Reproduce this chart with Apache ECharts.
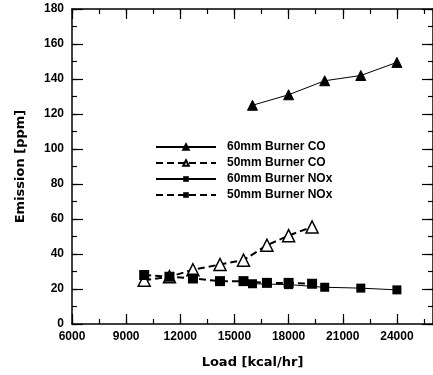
<!DOCTYPE html>
<html>
<head>
<meta charset="utf-8">
<script src="https://cdn.jsdelivr.net/npm/echarts@6/dist/echarts.min.js"></script>
<style>
html,body{margin:0;padding:0;background:#fff;}
#c{width:433px;height:375px;}
</style>
</head>
<body>
<div id="c"></div>
<script>
// ---- data ----
const seriesNames = ['60mm Burner CO', '50mm Burner CO', '60mm Burner NOx', '50mm Burner NOx'];
const loads60 = [16000, 18000, 20000, 22000, 24000];
const co60 = [125, 131, 139, 142, 149.5];
const nox60 = [23, 22.5, 21, 20.5, 19.5];
const loads50 = [10000, 11400, 12700, 14200, 15500, 16800, 18000, 19300];
const co50 = [25, 27, 31, 34, 36.5, 45, 50.5, 55.5];
const nox50 = [28, 27, 26, 24.5, 24.5, 23.5, 23.5, 23];
const xTitle = 'Load [kcal/hr]';
const yTitle = 'Emission [ppm]';

function pairs(xs, ys) { return xs.map((x, i) => [x, ys[i]]); }

const chart = echarts.init(document.getElementById('c'), null, {renderer: 'canvas'});
const black = '#000';
const tickFont = {color: black, fontWeight: 'bold', fontSize: 12, fontFamily: 'Liberation Sans, Arial, sans-serif'};
const titleFont = {color: black, fontWeight: 'bold', fontSize: 13, fontFamily: 'DejaVu Sans, sans-serif'};

function xAx(pos, interval, len, withLabel, withLine) {
  return {
    type: 'value', position: pos, min: 6000, max: 26000, interval: interval,
    gridIndex: 0,
    axisLine: {show: withLine, onZero: false, lineStyle: {color: black, width: 1.5}},
    axisTick: {show: true, inside: true, length: len, lineStyle: {color: black, width: 1.2}},
    axisLabel: withLabel ? Object.assign({show: true, margin: 7, showMaxLabel: false,
      formatter: v => String(v)}, tickFont) : {show: false},
    splitLine: {show: false},
    name: withLabel ? xTitle : '', nameLocation: 'middle', nameGap: 32,
    nameTextStyle: titleFont
  };
}
function yAx(pos, interval, len, withLabel, withLine) {
  return {
    type: 'value', position: pos, min: 0, max: 180, interval: interval,
    gridIndex: 0,
    axisLine: {show: withLine, onZero: false, lineStyle: {color: black, width: 1.5}},
    axisTick: {show: true, inside: true, length: len, lineStyle: {color: black, width: 1.2}},
    axisLabel: withLabel ? Object.assign({show: true, margin: 8, formatter: v => String(v)}, tickFont) : {show: false},
    splitLine: {show: false},
    name: withLabel ? yTitle : '', nameLocation: 'middle', nameGap: 45, nameRotate: 90,
    nameTextStyle: titleFont
  };
}

const option = {
  backgroundColor: '#fff',
  animation: false,
  grid: {left: 72, top: 9, width: 364.4, height: 315, containLabel: false},
  xAxis: [
    xAx('bottom', 3000, 10, true, true),
    xAx('bottom', 1500, 5, false, false),
    xAx('top', 3000, 10, false, true),
    xAx('top', 1500, 5, false, false)
  ],
  yAxis: [
    yAx('left', 20, 11, true, true),
    yAx('left', 10, 5, false, false),
    yAx('right', 20, 11, false, true),
    yAx('right', 10, 5, false, false)
  ],
  legend: {
    orient: 'vertical', left: 155, top: 140, padding: 0,
    itemWidth: 60, itemHeight: 7, itemGap: 2,
    textStyle: Object.assign({lineHeight: 14, padding: [0, 0, 0, 6]}, tickFont),
    data: seriesNames
  },
  series: [
    {
      name: seriesNames[0], type: 'line', data: pairs(loads60, co60),
      symbol: 'triangle', symbolSize: 10,
      lineStyle: {color: black, width: 1, type: 'solid'},
      itemStyle: {color: black, borderColor: black, borderWidth: 1}
    },
    {
      name: seriesNames[1], type: 'line', data: pairs(loads50, co50),
      symbol: 'triangle', symbolSize: 12,
      lineStyle: {color: black, width: 2, type: [7, 4]},
      itemStyle: {color: '#fff', borderColor: black, borderWidth: 1.5}
    },
    {
      name: seriesNames[2], type: 'line', data: pairs(loads60, nox60),
      symbol: 'rect', symbolSize: 9,
      lineStyle: {color: black, width: 1, type: 'solid'},
      itemStyle: {color: black, borderColor: black, borderWidth: 0}
    },
    {
      name: seriesNames[3], type: 'line', data: pairs(loads50, nox50),
      symbol: 'rect', symbolSize: 10,
      lineStyle: {color: black, width: 2, type: [7, 4]},
      itemStyle: {color: black, borderColor: black, borderWidth: 0}
    }
  ]
};
chart.setOption(option);
</script>
</body>
</html>
